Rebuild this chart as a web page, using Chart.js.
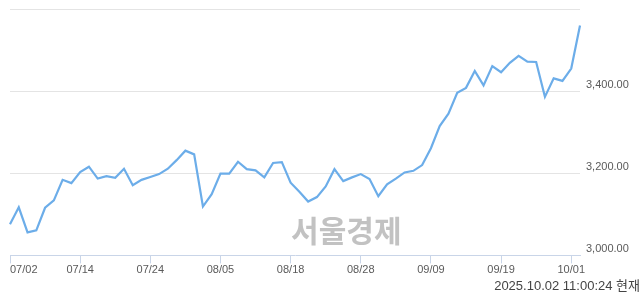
<!DOCTYPE html>
<html>
<head>
<meta charset="utf-8">
<script src="https://cdn.jsdelivr.net/npm/chart.js@4/dist/chart.umd.min.js"></script>
<style>
  html, body { margin: 0; padding: 0; background: #fff; }
  #wrap { width: 640px; height: 294px; position: relative; }
</style>
</head>
<body>
<div id="wrap"><canvas id="kospiChart"></canvas></div>
<script>
// 거래일 (07/02 ~ 10/02, 8/15 휴장)
const dates = [
  '07/02','07/03','07/04','07/07','07/08','07/09','07/10','07/11',
  '07/14','07/15','07/16','07/17','07/18','07/21','07/22','07/23',
  '07/24','07/25','07/28','07/29','07/30','07/31','08/01','08/04',
  '08/05','08/06','08/07','08/08','08/11','08/12','08/13','08/14',
  '08/18','08/19','08/20','08/21','08/22','08/25','08/26','08/27',
  '08/28','08/29','09/01','09/02','09/03','09/04','09/05','09/08',
  '09/09','09/10','09/11','09/12','09/15','09/16','09/17','09/18',
  '09/19','09/22','09/23','09/24','09/25','09/26','09/29','09/30',
  '10/01','10/02'
];

// 코스피 지수
const kospi = [
  3076, 3117, 3056, 3061, 3116, 3134, 3184, 3176,
  3203, 3216, 3187, 3193, 3189, 3211, 3171, 3184,
  3191, 3198, 3211, 3232, 3255, 3246, 3119, 3149,
  3199, 3199, 3228, 3210, 3207, 3190, 3225, 3227,
  3177, 3155, 3131, 3142, 3168, 3210, 3181, 3190,
  3198, 3186, 3144, 3173, 3187, 3202, 3206, 3220,
  3261, 3315, 3345, 3396, 3408, 3449, 3414, 3461,
  3446, 3469, 3486, 3472, 3471, 3386, 3431, 3425,
  3455, 3560
];

const yTicks = [3000, 3200, 3400, 3600];
const updatedAt = '2025.10.02 11:00:24 현재';
const watermark = '서울경제';

const labelEvery = 8;
const axisBlue = '#c9d5e8';
const gridGray = '#e4e4e4';

// 워터마크
const watermarkPlugin = {
  id: 'watermark',
  beforeDatasetsDraw(chart) {
    const { ctx, chartArea } = chart;
    ctx.save();
    ctx.font = 'bold 30px "Noto Sans CJK KR"';
    ctx.fillStyle = '#c2c2c2';
    ctx.textAlign = 'center';
    ctx.textBaseline = 'middle';
    const x = chartArea.left + (chartArea.right - chartArea.left) * 0.59;
    ctx.fillText(watermark, x, chartArea.bottom - 25);
    ctx.restore();
  }
};

function isShown(index) {
  return index % labelEvery === 0 && index < dates.length - 1;
}

new Chart(document.getElementById('kospiChart'), {
  type: 'line',
  data: {
    labels: dates,
    datasets: [{
      data: kospi,
      borderColor: '#6cade9',
      borderWidth: 2.2,
      pointRadius: 0,
      tension: 0,
      fill: false
    }]
  },
  options: {
    responsive: true,
    maintainAspectRatio: false,
    animation: false,
    layout: {
      padding: { left: 10, top: 9, right: 0, bottom: 0 }
    },
    scales: {
      x: {
        type: 'category',
        offset: false,
        grid: {
          drawOnChartArea: false,
          drawTicks: true,
          tickLength: 8,
          color: ctx => isShown(ctx.index) ? axisBlue : 'transparent'
        },
        border: { display: true, color: axisBlue },
        ticks: {
          autoSkip: false,
          maxRotation: 0,
          align: 'inner',
          padding: 0,
          color: '#5a5a5a',
          font: { family: '"Liberation Sans", Arial, sans-serif', size: 11 },
          callback: function(value, index) {
            return isShown(index) ? dates[index] : '';
          }
        },
        afterFit: function(scale) {
          scale.height = 22;
          scale.paddingLeft = 0;
          scale.paddingRight = 0;
        }
      },
      y: {
        position: 'right',
        min: yTicks[0],
        max: yTicks[yTicks.length - 1],
        afterBuildTicks: function(scale) {
          scale.ticks = yTicks.map(v => ({ value: v }));
        },
        grid: {
          drawTicks: false,
          color: ctx => (ctx.tick && ctx.tick.value === yTicks[0]) ? 'transparent' : gridGray
        },
        border: { display: false },
        ticks: {
          padding: 6,
          labelOffset: -6,
          color: '#5a5a5a',
          font: { family: '"Liberation Sans", Arial, sans-serif', size: 11 },
          callback: function(value) {
            if (value === yTicks[yTicks.length - 1]) return '';
            return value.toLocaleString('en-US', { minimumFractionDigits: 2, maximumFractionDigits: 2 });
          }
        },
        afterFit: function(scale) {
          scale.width = 60;
          scale.paddingTop = 0;
          scale.paddingBottom = 0;
        }
      }
    },
    plugins: {
      legend: { display: false },
      tooltip: { enabled: false },
      title: {
        display: true,
        position: 'bottom',
        align: 'end',
        text: updatedAt,
        color: '#444',
        font: { family: '"Liberation Sans", "Noto Sans CJK KR", sans-serif', size: 13, weight: 'normal' },
        padding: { top: 1, bottom: 0 }
      }
    }
  },
  plugins: [watermarkPlugin]
});
</script>
</body>
</html>
